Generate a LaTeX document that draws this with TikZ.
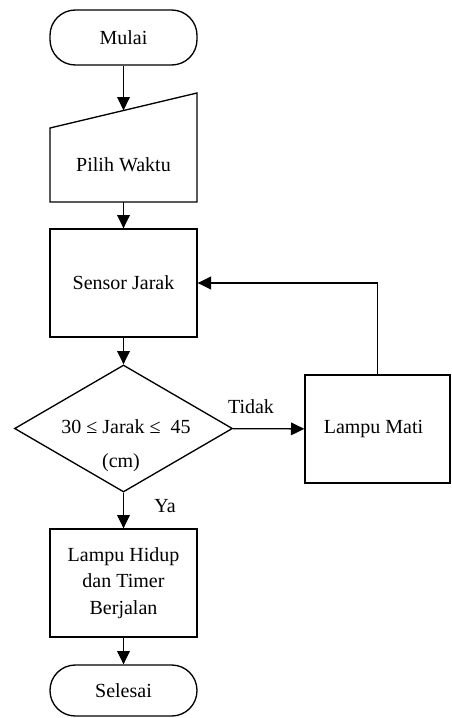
\documentclass[tikz,border=0pt]{standalone}
\usepackage{fontspec}
\setmainfont{Liberation Serif}
\usetikzlibrary{shapes.geometric,arrows.meta}
\begin{document}
\begin{tikzpicture}[x=0.75pt,y=-0.75pt,line width=1pt,
  every node/.style={font=\fontsize{15}{18}\selectfont, inner sep=0pt},
  termbox/.style={draw, rounded corners=19pt, minimum width=110.25pt},
  procbox/.style={draw, minimum width=110.25pt, minimum height=81pt, align=center},
  decbox/.style={draw, diamond, minimum width=163.5pt, minimum height=95.25pt},
  arr/.style={-{Triangle[length=10pt,width=9.5pt]}}]
\useasboundingbox (0,0) rectangle (452,718);
% terminals
\node[termbox, minimum height=41.25pt] (mulai) at (123.5,37.5) {Mulai};
% manual input
\draw (50,128) -- (197,93) -- (197,202) -- (50,202) -- cycle;
\node (pilih) at (123.5,165) {Pilih Waktu};
\coordinate (pin) at (123.5,110.4);
\coordinate (pbot) at (123.5,202);
% process
\node[procbox] (sensor) at (123.5,283) {Sensor Jarak};
\node[decbox] (dec) at (123.5,428.5) {};
\node (dtext) at (126,427) {30 ≤ Jarak ≤ \ 45};
\node (dcm) at (121,463) {(cm)};
\node[procbox, minimum width=108.75pt] (mati) at (377.5,429) {Lampu Mati\hspace*{6pt}};
\node[procbox] (hidup) at (123.5,583) {Lampu Hidup\\[2pt]dan Timer\\[2pt]Berjalan};
\node[termbox, minimum height=38.25pt] (selesai) at (123.5,690.5) {Selesai};
% connectors
\draw[arr] (mulai) -- (pin);
\draw[arr] (pbot) -- (sensor);
\draw[arr] (sensor) -- (dec);
\draw[arr] (dec) -- (mati);
\draw[arr] (mati.north) |- (sensor.east);
\draw[arr] (dec) -- (hidup);
\draw[arr] (hidup) -- (selesai);
% labels
\node (tidak) at (251,407) {Tidak};
\node (ya) at (165,506) {Ya};
\end{tikzpicture}
\end{document}
